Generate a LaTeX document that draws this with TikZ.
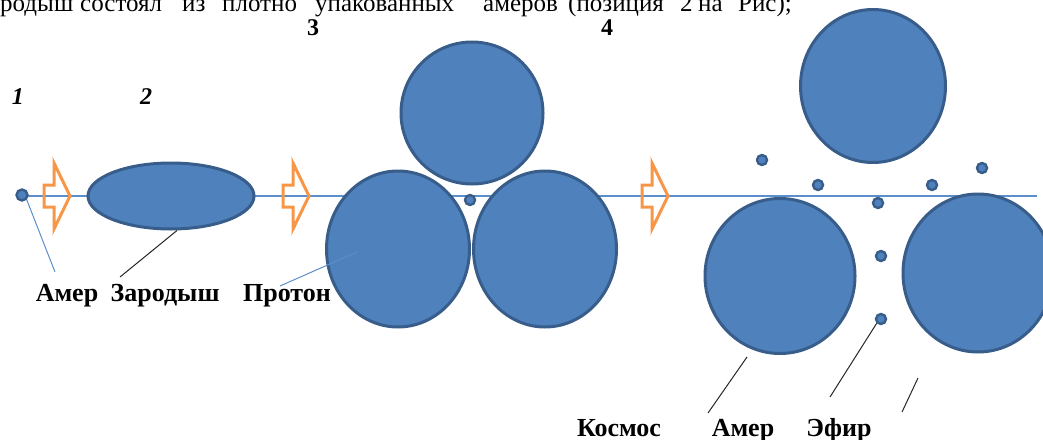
\documentclass[tikz,border=0pt]{standalone}
\usepackage{fontspec}
\setmainfont{Liberation Serif}
\usetikzlibrary{shapes.geometric}
\definecolor{ballfill}{HTML}{4F81BD}
\definecolor{balledge}{HTML}{385D8A}
\definecolor{axisblue}{HTML}{5B8FCC}
\definecolor{arroworange}{HTML}{F79646}
\tikzset{
  ball/.style={ellipse, fill=ballfill, draw=balledge, line width=3pt, inner sep=0pt},
  dot/.style={circle, fill=ballfill, draw=balledge, line width=2.4pt, minimum size=10pt, inner sep=0pt},
  axis/.style={draw=axisblue, line width=1.3pt},
  bluelead/.style={draw=axisblue, line width=1pt},
  darklead/.style={draw=black!85, line width=1pt},
  lbl/.style={font=\fontsize{26}{28}\selectfont\bfseries, inner sep=0pt, anchor=base},
  num/.style={font=\fontsize{24}{26}\selectfont\bfseries, inner sep=0pt, anchor=base},
  inum/.style={num, font=\fontsize{24}{26}\selectfont\bfseries\itshape},
  toptext/.style={font=\fontsize{25}{27}\selectfont, inner sep=0pt, anchor=base west},
  blockarrow/.pic={\draw[arroworange, line width=3pt, line join=miter]
      (-13,-11) -- (-3,-11) -- (-3,-33) -- (13,0) -- (-3,33) -- (-3,11) -- (-13,11) -- cycle;}
}
\begin{document}
\begin{tikzpicture}[x=1pt, y=-1pt]
\useasboundingbox (0,0) rectangle (1043,439);
% top cropped text line
\node[toptext] (w1) at (0,12) {родыш};
\node[toptext] (w2) at (80,12) {состоял};
\node[toptext] (w3) at (182,12) {из};
\node[toptext] (w4) at (222,12) {плотно};
\node[toptext] (w5) at (315,12) {упакованных};
\node[toptext] (w6) at (483,12) {амеров};
\node[toptext] (w7) at (568,12) {(позиция};
\node[toptext] (w8) at (680,12) {2};
\node[toptext] (w9) at (698,12) {на};
\node[toptext] (w10) at (738,12) {Рис);};
% numbers
\node[inum] (n1) at (18,104) {1};
\node[inum] (n2) at (146,104) {2};
\node[num] (n3) at (313,35) {3};
\node[num] (n4) at (607,35) {4};
% axis line
\coordinate (axisend) at (1037,196);
\coordinate (axisA) at (22,196);
\draw[axis] (axisA) -- (640,196) -- (axisend);
% stage 1 and 2
\node[dot, minimum size=11pt] (amer1) at (22,195) {};
\pic at (57,196) {blockarrow};
\node[ball, minimum width=166pt, minimum height=66pt] (zarod) at (171,196) {};
\pic at (296,196) {blockarrow};
% stage 3 proton
\node[ball, minimum width=142pt, minimum height=142pt] (ptop) at (472,113) {};
\node[ball, minimum width=143pt, minimum height=156pt] (pleft) at (398,249) {};
\node[ball, minimum width=143pt, minimum height=156pt] (pright) at (545,249) {};
\node[dot] (pdot) at (470,200) {};
\pic at (655,196) {blockarrow};
% stage 4
\node[ball, minimum width=145pt, minimum height=153pt] (ktop) at (873,86) {};
\node[ball, minimum width=150pt, minimum height=155pt] (kleft) at (780,276) {};
\node[ball, minimum width=150pt, minimum height=158pt] (kright) at (978,273) {};
\node[dot] (e1) at (762,160) {};
\node[dot] (e2) at (818,185) {};
\node[dot] (e3) at (878,203) {};
\node[dot] (e4) at (932,185) {};
\node[dot] (e5) at (982,168) {};
\node[dot] (e6) at (881,256) {};
\node[dot] (e7) at (881,319) {};
% labels
\node[lbl] (lAmer) at (67,301) {Амер};
\node[lbl] (lZar) at (165,301) {Зародыш};
\node[lbl] (lProt) at (287,301) {Протон};
\node[lbl] (lKos) at (619,436) {Космос};
\node[lbl] (lAmer2) at (743,436) {Амер};
\node[lbl] (lEfir) at (839,436) {Эфир};
% leader lines
\coordinate (t1) at (55,272);
\coordinate (t2) at (120,277);
\coordinate (t3) at (280,286);
\coordinate (s3) at (357,252);
\coordinate (t4) at (708,413);
\coordinate (s4) at (747,357);
\coordinate (t5) at (830,397);
\coordinate (t6) at (902,412);
\coordinate (s6) at (918,378);
\draw[bluelead] (amer1.south east) -- (t1);
\draw[darklead] (zarod.south) ++(6,0) -- (t2);
\draw[bluelead] (t3) -- (s3);
\draw[darklead] (t4) -- (s4);
\draw[darklead] (t5) -- (e7.south west);
\draw[darklead] (t6) -- (s6);
\end{tikzpicture}
\end{document}
